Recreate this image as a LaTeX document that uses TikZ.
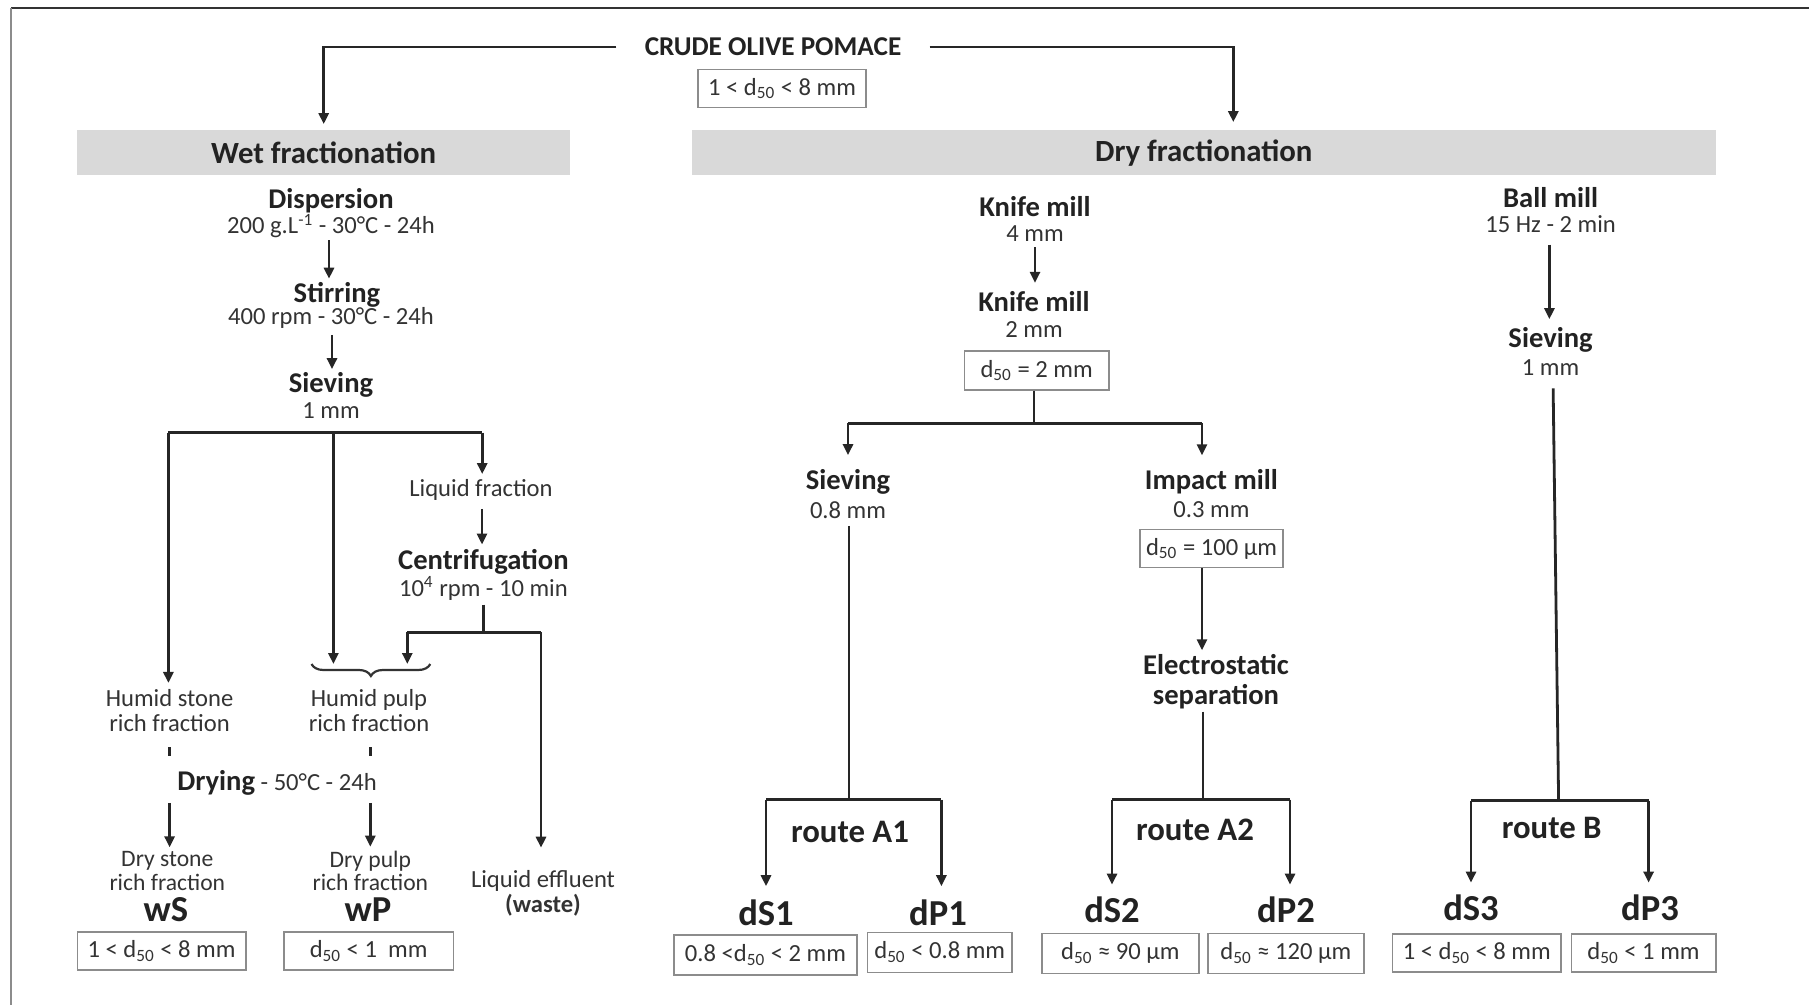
\documentclass[tikz,border=0pt]{standalone}
\usepackage{fontspec}
\setmainfont{Carlito}
\usetikzlibrary{arrows.meta,decorations.pathreplacing,calc}
\definecolor{txt}{HTML}{222222}
\definecolor{subt}{HTML}{333333}
\definecolor{barfill}{HTML}{D9D9D9}
\definecolor{bxline}{HTML}{8C8C8C}
\begin{document}
\begin{tikzpicture}[x=0.5pt,y=-0.5pt,
  ln/.style={line width=1.4pt, draw=black!85},
  arr/.style={ln, -{Triangle[length=5.5pt,width=5pt]}, shorten <=3pt, shorten >=3pt},
  hd/.style={inner sep=1pt, text=txt, font=\bfseries\fontsize{14.3}{15}\selectfont},
  dt/.style={inner sep=1pt, text=subt, font=\fontsize{12.3}{12.5}\selectfont},
  dt2/.style={inner sep=1pt, text=subt, align=center, font=\fontsize{12.3}{12.5}\selectfont},
  fr/.style={inner sep=1pt, text=subt, align=center, font=\fontsize{11.8}{11.6}\selectfont},
  prod/.style={inner sep=1pt, text=txt, font=\bfseries\fontsize{18.3}{19}\selectfont},
  route/.style={inner sep=1pt, text=txt, font=\bfseries\fontsize{16.4}{17}\selectfont},
  sizebox/.style={draw=bxline, line width=0.8pt, inner sep=0pt, text=subt, minimum height=19pt, font=\fontsize{12.3}{12.5}\selectfont},
  secbar/.style={fill=barfill, inner sep=0pt, minimum height=22.5pt, text=txt, font=\bfseries\fontsize{15.4}{16}\selectfont}
]
\useasboundingbox (0,0) rectangle (1809,1005);
% frame
\coordinate (fTL) at (11,8);
\coordinate (fTR) at (1809,8);
\coordinate (fBL) at (11,1005);
\draw[line width=1.1pt, draw=black!80] (fTL) -- (fTR);
\draw[line width=1.1pt, draw=black!45] (fTL) -- (fBL);

% title
\node[hd, font=\bfseries\fontsize{13.6}{14}\selectfont, inner xsep=14pt, inner ysep=0pt] (title) at (773,47) {CRUDE OLIVE POMACE};
\node[sizebox, minimum width=84pt] (tbox) at (782,88.5) {1 < d\textsubscript{50} < 8 mm};

% section bars
\node[secbar, minimum width=246.4pt] (wetbar) at (323.7,153) {Wet fractionation};
\node[secbar, minimum width=511.8pt] (drybar) at (1203.8,153) {Dry fractionation};
\draw[arr, shorten <=0pt, shorten >=3pt] (title.west) -| (wetbar.north);
\draw[arr, shorten <=0pt, shorten >=4pt] (title.east) -| ($(drybar.north)+(29.5,0)$);

% ---------------- wet branch
\node[hd] (disp) at (331,200.7) {Dispersion};
\node[dt] (dispd) at (331,226) {200 g.L\textsuperscript{-1} - 30°C - 24h};
\node[hd] (stir) at (337,295) {Stirring};
\node[dt] (stird) at (331,318) {400 rpm - 30°C - 24h};
\node[hd] (siev) at (331,385) {Sieving};
\node[dt] (sievd) at (331,411) {1 mm};
\draw[arr, shorten <=0pt, shorten >=0.7pt] ($(dispd.south)+(-2,0)$) -- ($(dispd.south |- stir.north)+(-2,0)$);
\draw[arr, shorten <=2pt, shorten >=0.5pt] ($(stird.south)+(1,0)$) -- ($(stird.south |- siev.north)+(1,0)$);

\coordinate (wjL) at (168.4,432.6);
\coordinate (wjM) at (333.4,432.6);
\coordinate (wjR) at (482.2,432.6);
\draw[ln] (wjL) -- (wjR);

\node[dt] (liq) at (481,490) {Liquid fraction};
\node[hd] (cent) at (483.4,562) {Centrifugation};
\node[dt] (centd) at (483.4,588.4) {10\textsuperscript{4} rpm - 10 min};
\draw[arr, shorten <=0pt, shorten >=1.5pt] (wjR) -- (wjR |- liq.north);
\draw[arr, shorten <=3pt, shorten >=1.3pt] ($(liq.south)+(1,0)$) -- ($(liq.south |- cent.north)+(1,0)$);

\coordinate (cj) at (483.4,632.2);
\coordinate (cjL) at (407.3,632.2);
\coordinate (cjR) at (541,632.2);
\draw[ln, shorten <=1pt] (centd.south) -- (cj);
\draw[ln] (cjL) -- (cjR);

\node[dt2] (hstone) at (169.6,710.5) {Humid stone\\rich fraction};
\node[dt2] (hpulp) at (369,710.5) {Humid pulp\\rich fraction};
\coordinate (brL) at (311.5,664);
\coordinate (brR) at (430.3,664);
\draw[line width=1.1pt, draw=black!80, decorate, decoration={brace, mirror, amplitude=6pt}] (brL) -- (brR);
\draw[arr, shorten <=0pt, shorten >=2pt] (wjL) -- (wjL |- hstone.north);
\draw[arr, shorten <=0pt, shorten >=0pt] (wjM) -- (wjM |- brL);
\draw[arr, shorten <=0pt, shorten >=0pt] (cjL) -- (cjL |- brL);

\node[inner sep=1pt, text=txt] (dry) at (277,783) {{\bfseries\fontsize{14.3}{15}\selectfont Drying}{\color{subt}\fontsize{12.3}{12.5}\selectfont\ - 50°C - 24h}};
\draw[ln, shorten <=6.5pt, shorten >=6pt] (hstone.south) -- (hstone.south |- dry.north);
\draw[ln, shorten <=6.5pt, shorten >=6pt] ($(hpulp.south)+(1.3,0)$) -- ($(hpulp.south |- dry.north)+(1.3,0)$);

\node[fr] (drystone) at (167.3,871) {Dry stone\\rich fraction};
\node[fr] (drypulp) at (370.3,871) {Dry pulp\\rich fraction};
\draw[arr, shorten <=2.5pt, shorten >=1pt] (hstone.south |- dry.south) -- (hstone.south |- drystone.north);
\draw[arr, shorten <=2.5pt, shorten >=1pt] (drypulp.north |- dry.south) -- (drypulp.north);

\node[dt2] (eff) at (543,893) {Liquid effluent\\\textbf{(waste)}};
\draw[arr, shorten <=0pt, shorten >=10pt] (cjR) -- (cjR |- eff.north);

\node[prod] (wS) at (166,910) {wS};
\node[prod] (wP) at (368,910) {wP};
\node[sizebox, minimum width=84.2pt] (wSbox) at (161.5,951) {1 < d\textsubscript{50} < 8 mm};
\node[sizebox, minimum width=84.8pt] (wPbox) at (368.6,951) {d\textsubscript{50} < 1\ \ mm};

% ---------------- dry branch: route A
\node[hd] (km1) at (1035,206.5) {Knife mill};
\node[dt] (km1d) at (1035,234) {4 mm};
\node[hd] (km2) at (1034,302) {Knife mill};
\node[dt] (km2d) at (1034,330) {2 mm};
\draw[arr, shorten <=1.5pt, shorten >=3.3pt] (km1d.south) -- (km1d.south |- km2.north);
\node[sizebox, minimum width=72.1pt, minimum height=19.5pt] (b2) at (1036.6,370.4) {d\textsubscript{50} = 2 mm};

\coordinate (dj) at (1034,423.4);
\coordinate (djL) at (848,423.4);
\coordinate (djR) at (1202,423.4);
\draw[ln] (b2.south -| dj) -- (dj);
\draw[ln] (djL) -- (djR);

\node[hd] (sv2) at (848,482) {Sieving};
\node[dt] (sv2d) at (848,510) {0.8 mm};
\node[hd] (im) at (1211.4,482) {Impact mill};
\node[dt] (imd) at (1211.4,510) {0.3 mm};
\node[sizebox, minimum width=71.5pt] (b100) at (1211.5,548.6) {d\textsubscript{50} = 100 µm};
\draw[arr, shorten <=0pt, shorten >=6pt] (djL) -- (djL |- sv2.north);
\draw[arr, shorten <=0pt, shorten >=6pt] (djR) -- (djR |- im.north);

\node[hd, align=center, font=\bfseries\fontsize{14.3}{15}\selectfont] (elec) at (1216,682) {Electrostatic\\separation};
\draw[arr, shorten <=0pt, shorten >=1pt] (b100.south -| djR) -- (djR |- elec.north);

\coordinate (aj1) at (849,799.5);
\coordinate (aj1L) at (766,799.5);
\coordinate (aj1R) at (941.4,799.5);
\draw[ln, shorten <=2.5pt] (sv2d.south -| aj1) -- (aj1);
\draw[ln] (aj1L) -- (aj1R);

\coordinate (aj2) at (1203,799.5);
\coordinate (aj2L) at (1112,799.5);
\coordinate (aj2R) at (1290,799.5);
\draw[ln] (elec.south -| aj2) -- (aj2);
\draw[ln] (aj2L) -- (aj2R);

\node[route] (rA1) at (850,832) {route A1};
\node[route] (rA2) at (1195,829.5) {route A2};

\node[prod] (dS1) at (766,912.6) {dS1};
\node[prod] (dP1) at (938,912.6) {dP1};
\node[prod] (dS2) at (1112,910) {dS2};
\node[prod] (dP2) at (1286,910) {dP2};
\draw[arr, shorten <=0pt, shorten >=5.5pt] (aj1L) -- (aj1L |- dS1.north);
\draw[arr, shorten <=0pt, shorten >=5.5pt] (aj1R) -- (aj1R |- dP1.north);
\draw[arr, shorten <=0pt, shorten >=5pt] (aj2L) -- (aj2L |- dS2.north);
\draw[arr, shorten <=0pt, shorten >=5pt] (aj2R) -- (aj2R |- dP2.north);

\node[sizebox, minimum width=91.7pt, minimum height=20pt] (dS1box) at (765.5,954.8) {0.8 <d\textsubscript{50} < 2 mm};
\node[sizebox, minimum width=72.1pt, minimum height=20pt] (dP1box) at (939.7,952.3) {d\textsubscript{50} < 0.8 mm};
\node[sizebox, minimum width=78.5pt, minimum height=20pt] (dS2box) at (1120.3,953.3) {d\textsubscript{50} ≈ 90 µm};
\node[sizebox, minimum width=77.9pt, minimum height=20pt] (dP2box) at (1285.9,953.3) {d\textsubscript{50} ≈ 120 µm};

% ---------------- dry branch: route B
\node[hd] (ball) at (1550.6,197.3) {Ball mill};
\node[dt] (balld) at (1550.6,223.8) {15 Hz - 2 min};
\node[hd] (sv3) at (1550.6,340) {Sieving};
\node[dt] (sv3d) at (1550.6,368) {1 mm};
\draw[arr, shorten <=5pt, shorten >=3pt] ($(balld.south)+(-1.2,0)$) -- ($(balld.south |- sv3.north)+(-1.2,0)$);

\coordinate (bj) at (1558.6,800.5);
\coordinate (bjL) at (1471,800.5);
\coordinate (bjR) at (1648.6,800.5);
\draw[ln, shorten <=5pt] ($(sv3d.south)+(2.4,0)$) -- (bj);
\draw[ln] (bjL) -- (bjR);
\node[route] (rB) at (1551.7,828) {route B};

\node[prod] (dS3) at (1471,908) {dS3};
\node[prod] (dP3) at (1650,908) {dP3};
\draw[arr, shorten <=0pt, shorten >=5pt] (bjL) -- (bjL |- dS3.north);
\draw[arr, shorten <=0pt, shorten >=5pt] (bjR) -- (bjR |- dP3.north);

\node[sizebox, minimum width=84.3pt] (dS3box) at (1476.8,952.8) {1 < d\textsubscript{50} < 8 mm};
\node[sizebox, minimum width=72.2pt] (dP3box) at (1643.5,952.8) {d\textsubscript{50} < 1 mm};
\end{tikzpicture}
\end{document}
